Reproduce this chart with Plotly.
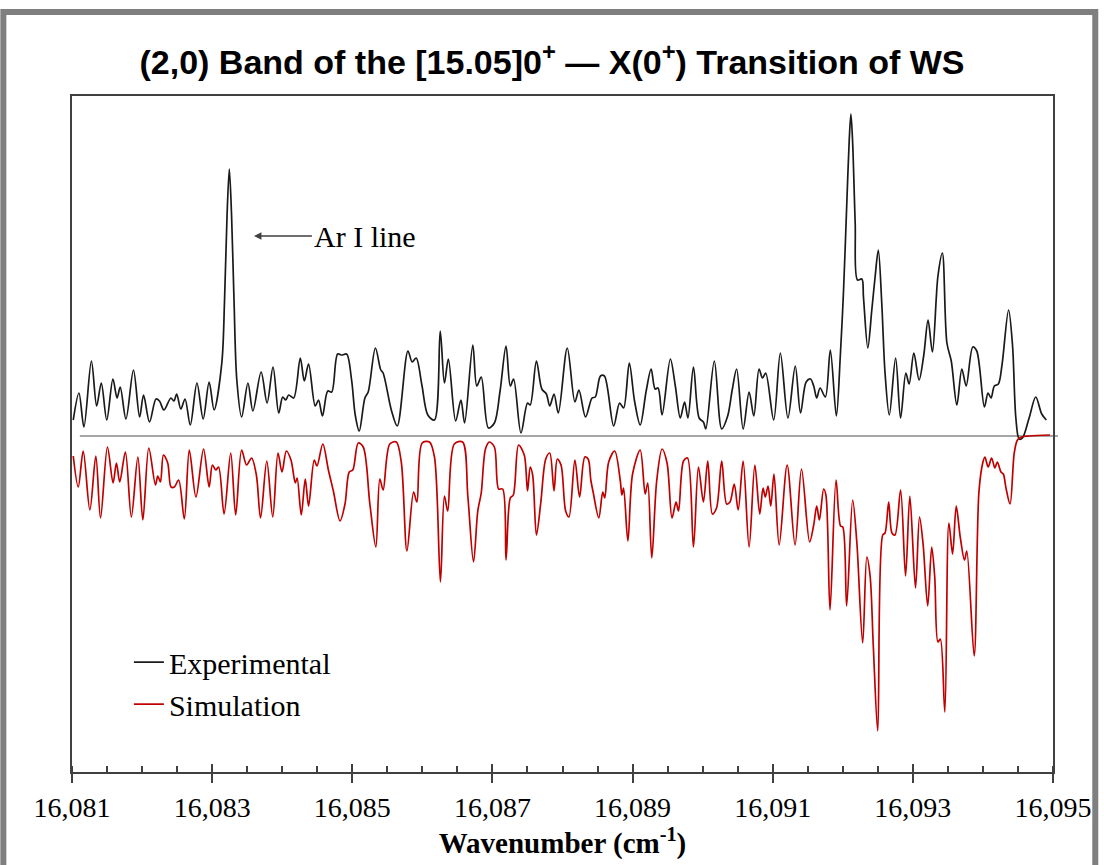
import plotly.graph_objects as go

# ---------------- data ----------------
exp_wn = [16081.018, 16081.099, 16081.170, 16081.277, 16081.352, 16081.418, 16081.496, 16081.584,
          16081.643, 16081.688, 16081.770, 16081.877, 16081.965, 16082.021, 16082.106, 16082.199,
          16082.248, 16082.312, 16082.411, 16082.454, 16082.494, 16082.553, 16082.613, 16082.688,
          16082.783, 16082.872, 16082.957, 16083.028, 16083.138, 16083.177, 16083.213, 16083.245,
          16083.277, 16083.312, 16083.352, 16083.421, 16083.511, 16083.581, 16083.699, 16083.784,
          16083.869, 16083.950, 16084.007, 16084.050, 16084.092, 16084.163, 16084.258, 16084.315,
          16084.376, 16084.471, 16084.518, 16084.574, 16084.650, 16084.706, 16084.791, 16084.851,
          16084.919, 16084.990, 16085.042, 16085.099, 16085.180, 16085.227, 16085.330, 16085.407,
          16085.440, 16085.557, 16085.642, 16085.794, 16085.855, 16085.912, 16085.993, 16086.078,
          16086.173, 16086.255, 16086.315, 16086.371, 16086.475, 16086.550, 16086.603, 16086.720,
          16086.777, 16086.840, 16086.943, 16087.028, 16087.109, 16087.194, 16087.255, 16087.302,
          16087.407, 16087.501, 16087.539, 16087.628, 16087.705, 16087.770, 16087.818, 16087.879,
          16087.940, 16088.068, 16088.177, 16088.234, 16088.329, 16088.422, 16088.468, 16088.542,
          16088.598, 16088.730, 16088.815, 16088.872, 16088.953, 16089.028, 16089.109, 16089.194,
          16089.265, 16089.322, 16089.364, 16089.421, 16089.539, 16089.610, 16089.681, 16089.742,
          16089.790, 16089.869, 16089.950, 16090.011, 16090.045, 16090.167, 16090.272, 16090.357,
          16090.422, 16090.485, 16090.578, 16090.663, 16090.730, 16090.805, 16090.854, 16090.900,
          16091.014, 16091.109, 16091.217, 16091.322, 16091.397, 16091.477, 16091.539, 16091.585,
          16091.628, 16091.676, 16091.751, 16091.822, 16091.908, 16091.964, 16092.011, 16092.059,
          16092.092, 16092.116, 16092.139, 16092.177, 16092.210, 16092.272, 16092.295, 16092.357,
          16092.414, 16092.461, 16092.507, 16092.556, 16092.603, 16092.664, 16092.754, 16092.825,
          16092.900, 16092.947, 16093.014, 16093.089, 16093.156, 16093.217, 16093.279, 16093.358,
          16093.421, 16093.486, 16093.548, 16093.628, 16093.699, 16093.761, 16093.855, 16093.912,
          16094.021, 16094.073, 16094.116, 16094.163, 16094.220, 16094.272, 16094.366, 16094.422,
          16094.470, 16094.517, 16094.564, 16094.659, 16094.754, 16094.839, 16094.905]
exp_int = [0.16, 0.43, 0.09, 0.75, 0.30, 0.53, 0.16, 0.57,
           0.38, 0.49, 0.17, 0.66, 0.19, 0.41, 0.14, 0.37,
           0.35, 0.26, 0.38, 0.35, 0.42, 0.27, 0.37, 0.11,
           0.53, 0.17, 0.54, 0.26, 0.73, 1.36, 2.21, 2.67,
           2.21, 1.36, 0.56, 0.19, 0.53, 0.25, 0.64, 0.33,
           0.69, 0.23, 0.39, 0.36, 0.41, 0.38, 0.78, 0.55,
           0.72, 0.30, 0.36, 0.20, 0.45, 0.44, 0.82, 0.81,
           0.82, 0.56, 0.21, 0.05, 0.38, 0.44, 0.88, 0.66,
           0.63, 0.26, 0.10, 0.85, 0.74, 0.78, 0.51, 0.21,
           0.16, 1.05, 0.53, 0.77, 0.15, 0.36, 0.13, 0.91,
           0.50, 0.59, 0.08, 0.13, 0.45, 0.90, 0.50, 0.57,
           0.03, 0.33, 0.31, 0.75, 0.47, 0.42, 0.30, 0.42,
           0.23, 0.88, 0.34, 0.46, 0.19, 0.38, 0.39, 0.60,
           0.60, 0.10, 0.33, 0.28, 0.73, 0.35, 0.11, 0.45,
           0.67, 0.47, 0.48, 0.21, 0.77, 0.50, 0.18, 0.34,
           0.18, 0.69, 0.18, 0.14, 0.07, 0.75, 0.07, 0.20,
           0.46, 0.67, 0.07, 0.44, 0.20, 0.67, 0.58, 0.63,
           0.16, 0.83, 0.18, 0.70, 0.23, 0.54, 0.57, 0.50,
           0.38, 0.48, 0.39, 0.86, 0.20, 0.79, 1.46, 2.36,
           2.96, 3.22, 2.96, 2.13, 1.56, 1.57, 1.39, 0.88,
           1.26, 1.59, 1.86, 1.33, 0.63, 0.21, 0.78, 0.18,
           0.63, 0.52, 0.83, 0.56, 0.81, 1.16, 0.84, 1.60,
           1.83, 0.93, 0.75, 0.31, 0.67, 0.50, 0.89, 0.85,
           0.29, 0.43, 0.38, 0.50, 0.52, 0.71, 1.26, 0.91,
           0.18, -0.03, -0.02, 0.18, 0.39, 0.22, 0.16]

sim_wn = [16081.018, 16081.089, 16081.160, 16081.255, 16081.340, 16081.407, 16081.506, 16081.586,
          16081.634, 16081.681, 16081.762, 16081.847, 16081.940, 16082.011, 16082.096, 16082.191,
          16082.224, 16082.262, 16082.305, 16082.366, 16082.414, 16082.461, 16082.522, 16082.603,
          16082.674, 16082.769, 16082.877, 16082.957, 16083.004, 16083.052, 16083.092, 16083.170,
          16083.265, 16083.336, 16083.421, 16083.492, 16083.563, 16083.631, 16083.691, 16083.780,
          16083.865, 16083.940, 16083.997, 16084.059, 16084.125, 16084.187, 16084.213, 16084.272,
          16084.329, 16084.376, 16084.457, 16084.496, 16084.579, 16084.659, 16084.730, 16084.825,
          16084.896, 16084.957, 16085.007, 16085.085, 16085.156, 16085.251, 16085.336, 16085.393,
          16085.440, 16085.535, 16085.628, 16085.699, 16085.780, 16085.875, 16085.922, 16085.997,
          16086.102, 16086.173, 16086.258, 16086.315, 16086.362, 16086.456, 16086.574, 16086.649,
          16086.730, 16086.791, 16086.840, 16086.901, 16086.957, 16087.028, 16087.089, 16087.146,
          16087.194, 16087.255, 16087.298, 16087.373, 16087.454, 16087.501, 16087.539, 16087.574,
          16087.628, 16087.691, 16087.761, 16087.818, 16087.879, 16087.926, 16087.979, 16088.045,
          16088.092, 16088.177, 16088.244, 16088.319, 16088.366, 16088.404, 16088.437, 16088.518,
          16088.574, 16088.603, 16088.659, 16088.745, 16088.825, 16088.848, 16088.872, 16088.933,
          16089.000, 16089.109, 16089.180, 16089.217, 16089.274, 16089.344, 16089.421, 16089.492,
          16089.563, 16089.620, 16089.656, 16089.727, 16089.784, 16089.869, 16089.940, 16090.011,
          16090.073, 16090.139, 16090.198, 16090.272, 16090.343, 16090.390, 16090.451, 16090.507,
          16090.578, 16090.663, 16090.745, 16090.815, 16090.862, 16090.894, 16090.933, 16090.972,
          16091.018, 16091.092, 16091.206, 16091.319, 16091.411, 16091.527, 16091.585, 16091.628,
          16091.666, 16091.727, 16091.759, 16091.818, 16091.904, 16091.968, 16092.000, 16092.055,
          16092.141, 16092.201, 16092.284, 16092.343, 16092.390, 16092.436, 16092.499, 16092.570,
          16092.603, 16092.655, 16092.702, 16092.745, 16092.825, 16092.896, 16092.957, 16093.038,
          16093.095, 16093.146, 16093.212, 16093.269, 16093.312, 16093.358, 16093.392, 16093.456,
          16093.514, 16093.567, 16093.619, 16093.676, 16093.737, 16093.770, 16093.875, 16093.943,
          16093.997, 16094.028, 16094.075, 16094.124, 16094.170, 16094.205, 16094.258, 16094.291,
          16094.329, 16094.387, 16094.447, 16094.493, 16094.553, 16094.659, 16094.957]
sim_int = [-0.20, -0.51, -0.15, -0.74, -0.20, -0.82, -0.11, -0.47,
           -0.27, -0.46, -0.16, -0.81, -0.21, -0.84, -0.12, -0.49,
           -0.40, -0.46, -0.19, -0.27, -0.51, -0.51, -0.44, -0.83,
           -0.14, -0.61, -0.13, -0.51, -0.29, -0.34, -0.31, -0.78,
           -0.17, -0.79, -0.14, -0.29, -0.22, -0.39, -0.82, -0.25,
           -0.81, -0.17, -0.36, -0.15, -0.24, -0.47, -0.42, -0.79,
           -0.43, -0.70, -0.24, -0.30, -0.08, -0.34, -0.55, -0.85,
           -0.68, -0.36, -0.34, -0.07, -0.11, -0.68, -1.11, -0.43,
           -0.54, -0.08, -0.06, -0.26, -1.15, -0.56, -0.66, -0.07,
           -0.06, -0.21, -1.46, -0.60, -0.75, -0.08, -0.06, -0.60,
           -1.26, -0.75, -0.57, -0.13, -0.06, -0.11, -0.53, -0.53,
           -1.24, -0.62, -0.59, -0.09, -0.19, -0.55, -0.31, -0.39,
           -0.99, -0.66, -0.23, -0.17, -0.55, -0.23, -0.29, -0.75,
           -0.81, -0.24, -0.61, -0.21, -0.23, -0.44, -0.56, -0.82,
           -0.56, -0.62, -0.26, -0.15, -0.45, -0.59, -0.52, -1.05,
           -0.38, -0.14, -0.58, -0.47, -1.22, -0.45, -0.13, -0.27,
           -0.82, -0.66, -0.75, -0.25, -0.22, -1.11, -0.31, -0.66,
           -0.25, -0.78, -0.72, -0.25, -0.68, -0.66, -0.48, -0.74,
           -0.25, -1.11, -0.29, -0.78, -0.52, -0.61, -0.50, -0.70,
           -0.38, -1.09, -0.29, -1.09, -0.33, -1.06, -0.89, -0.70,
           -0.84, -0.53, -0.59, -1.74, -0.44, -0.90, -0.91, -1.70,
           -0.64, -1.07, -2.07, -1.21, -1.40, -2.11, -2.95, -0.99,
           -0.97, -0.66, -0.97, -0.99, -0.54, -1.40, -0.60, -1.52,
           -0.81, -1.08, -1.70, -1.11, -1.41, -2.06, -2.03, -2.76,
           -0.87, -1.18, -0.70, -1.01, -1.24, -1.15, -2.20, -0.56,
           -0.27, -0.21, -0.31, -0.22, -0.32, -0.26, -0.36, -0.38,
           -0.52, -0.68, -0.17, -0.04, -0.01, 0.00, 0.01]

x_ticks = [16081, 16083, 16085, 16087, 16089, 16091, 16093, 16095]
x_range = [16081, 16095]
y_range = [-3.36, 3.40]
ar_line = {"wn": 16083.596, "int": 2.00, "label": "Ar I line"}

SERIF = "Liberation Serif, Times New Roman, serif"
AXIS_COL = "#404040"

fig = go.Figure()
fig.add_trace(go.Scatter(x=exp_wn, y=exp_int, mode="lines", name="Experimental",
                         line=dict(color="#1a1a1a", width=1.7, shape="spline", smoothing=0.9)))
fig.add_trace(go.Scatter(x=sim_wn, y=sim_int, mode="lines", name="Simulation",
                         xaxis="x2",
                         line=dict(color="#c00000", width=1.7, shape="spline", smoothing=0.9)))

fig.update_layout(
    width=1104, height=865,
    margin=dict(l=72, r=46, t=96, b=93),
    paper_bgcolor="white", plot_bgcolor="white",
    title=dict(text="(2,0) Band of the [15.05]0<sup>+</sup> — X(0<sup>+</sup>) Transition of WS",
               font=dict(family="Liberation Sans Narrow, Arial Narrow, Liberation Sans, Arial",
                         size=34, color="black", weight="bold"),
               x=0.5, xref="container", xanchor="center",
               y=1 - 62 / 865, yref="container", yanchor="middle"),
    xaxis=dict(range=x_range, tickvals=x_ticks, tickformat=",d",
               ticks="outside", ticklen=9, tickwidth=2, tickcolor=AXIS_COL,
               minor=dict(dtick=0.5, tick0=16081, ticks="inside", ticklen=6,
                          tickwidth=2, tickcolor=AXIS_COL, showgrid=False),
               showline=True, linecolor=AXIS_COL, linewidth=2, mirror=True,
               showgrid=False, zeroline=False,
               tickfont=dict(family=SERIF, size=28, color="black"),
               title=dict(text="<b>Wavenumber (cm<sup>-1</sup>)</b>",
                          font=dict(family=SERIF, size=29, color="black"), standoff=0)),
    xaxis2=dict(matches="x", overlaying="x", side="bottom", tickvals=x_ticks,
                ticks="inside", ticklen=8, tickwidth=2, tickcolor=AXIS_COL,
                showticklabels=False, showline=False, showgrid=False, zeroline=False),
    yaxis=dict(range=y_range, showticklabels=False, ticks="", showgrid=False,
               zeroline=False, showline=True, linecolor=AXIS_COL, linewidth=2, mirror=True),
    legend=dict(x=0.058, y=0.201, xanchor="left", yanchor="top",
                bgcolor="rgba(0,0,0,0)", itemwidth=30, traceorder="normal",
                font=dict(family=SERIF, size=30, color="black")),
    showlegend=True,
)

# zero baseline (slightly wider than the frame, as in the original)
fig.add_shape(type="line", xref="paper", yref="y", x0=0.008, x1=1.005, y0=0, y1=0,
              line=dict(color="#a6a6a6", width=2), layer="below")
# outer gray picture frame
fig.add_shape(type="rect", xref="paper", yref="paper",
              x0=(3 - 72) / 986, x1=(1100.5 - 72) / 986,
              y0=(772 - 900) / 676, y1=(772 - 12) / 676,
              line=dict(color="#7f7f7f", width=6), fillcolor="rgba(0,0,0,0)", layer="above")

fig.add_annotation(x=ar_line["wn"], y=ar_line["int"], text=ar_line["label"],
                   showarrow=True, ax=58, ay=0, xanchor="left",
                   arrowhead=2, arrowsize=1, arrowwidth=1.5, arrowcolor=AXIS_COL,
                   font=dict(family=SERIF, size=30, color="black"))

fig.write_html("out.html")
